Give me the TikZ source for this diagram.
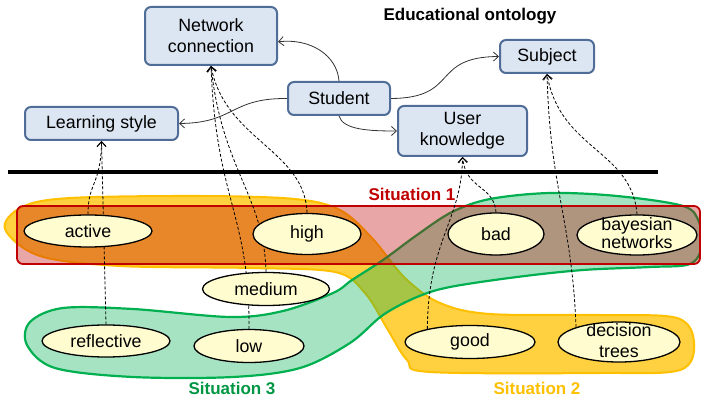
\documentclass[tikz,border=0pt]{standalone}
\usepackage{fontspec}
\setmainfont{Liberation Sans}
\usetikzlibrary{shapes.geometric,arrows.meta}
\pgfdeclarelayer{blobs}
\pgfdeclarelayer{links}
\pgfsetlayers{blobs,links,main}
\definecolor{boxfill}{HTML}{DCE6F2}
\definecolor{boxline}{HTML}{4F6D96}
\definecolor{ellfill}{HTML}{FFFDD0}
\definecolor{sitred}{HTML}{C00000}
\definecolor{sityel}{HTML}{FFC000}
\definecolor{sitgrn}{HTML}{00B050}
\begin{document}
\begin{tikzpicture}[x=1pt,y=-1pt,
  txt/.style={font=\fontsize{17.8}{21}\selectfont},
  onto/.style={draw=boxline, line width=2pt, fill=boxfill, rounded corners=6pt, inner sep=0pt, align=center, txt},
  val/.style={ellipse, draw=black, line width=1.3pt, fill=ellfill, inner sep=0pt, txt},
  dep/.style={line width=0.8pt, dash pattern=on 3pt off 2pt, -{Straight Barb[length=5pt,width=9pt]}},
  rel/.style={line width=0.8pt, draw=black!80, -{Straight Barb[length=5pt,width=9pt]}},
  sit/.style={font=\bfseries\fontsize{17}{20}\selectfont}]
\useasboundingbox (0,0) rectangle (701,398);

% ontology boxes
\node[onto, minimum width=132pt, minimum height=58pt] (net) at (211,36) {Network\\connection};
\node[onto, minimum width=153pt, minimum height=33pt] (ls) at (101.5,123.5) {Learning style};
\node[onto, minimum width=102pt, minimum height=33pt] (stu) at (339,98.5) {Student};
\node[onto, minimum width=129pt, minimum height=50pt] (uk) at (462.5,131) {User\\knowledge};
\node[onto, minimum width=94pt, minimum height=33pt] (subj) at (547,56.5) {Subject};
\node[font=\bfseries\fontsize{17}{20}\selectfont] (title) at (470,16) {Educational ontology};

% values
\node[val, minimum width=128pt, minimum height=32pt] (act) at (88,231) {active};
\node[val, minimum width=108pt, minimum height=41pt] (high) at (307,234) {high};
\node[val, minimum width=127pt, minimum height=33pt] (med) at (266,289) {medium};
\node[val, minimum width=128pt, minimum height=32pt] (refl) at (106,341) {reflective};
\node[val, minimum width=110pt, minimum height=33pt] (low) at (249,346) {low};
\node[val, minimum width=96pt, minimum height=42pt] (bad) at (496,234) {bad};
\node[val, minimum width=120pt, minimum height=40pt] (bn) at (637,235)
  {\smash{\raisebox{-5.3pt}{\fontsize{17.8}{18.5}\selectfont\begin{tabular}{@{}c@{}}bayesian\\networks\end{tabular}}}};
\node[val, minimum width=130pt, minimum height=33pt] (good) at (470,342) {good};
\node[val, minimum width=122pt, minimum height=40pt] (dt) at (619,342)
  {\smash{\raisebox{-5.5pt}{\fontsize{17.8}{21}\selectfont\begin{tabular}{@{}c@{}}decision\\trees\end{tabular}}}};

% situation labels
\node[sit, text=sitred] (s1) at (412,194) {Situation 1};
\node[sit, text=sityel] (s2) at (537,388) {Situation 2};
\node[sit, text=sitgrn!85!black] (s3) at (232,388) {Situation 3};

\begin{pgfonlayer}{blobs}
  % situation 2 (yellow)
  \draw[draw=sityel, line width=2pt, fill=sityel, fill opacity=0.75]
    plot[smooth cycle, tension=0.55] coordinates {
      (5,229) (22,207) (70,198) (200,196) (295,199) (340,210) (372,238)
      (405,278) (440,303) (490,314) (600,315) (677,318) (694,343) (680,370)
      (600,373) (430,372) (407,360) (388,330) (365,293) (335,272) (250,268)
      (120,266) (40,256)};
  % situation 3 (green)
  \draw[draw=sitgrn, line width=2.2pt, fill=sitgrn, fill opacity=0.35]
    plot[smooth cycle, tension=0.55] coordinates {
      (63,308) (133,309) (230,317) (283,311) (333,293) (352,280) (383,260)
      (417,235) (452,212) (490,199) (550,193) (617,196) (683,206) (699,222)
      (702,246) (690,264) (650,267) (583,270) (517,277) (450,287) (417,297)
      (383,315) (350,343) (300,368) (233,377) (133,377) (55,368) (27,345)
      (30,322)};
  % situation 1 (red)
  \draw[draw=sitred, line width=1.8pt, fill=sitred, fill opacity=0.35, rounded corners=6pt]
    (17,206) rectangle (700,264);
  % separator
  \draw[line width=4.8pt] (8,172) -- (658,172);
\end{pgfonlayer}

\begin{pgfonlayer}{links}
  % ontology relations
  \draw[rel] (stu.north) .. controls (337,55) and (310,38) .. (net.-5);
  \draw[rel] (stu.west) .. controls (230,98) and (235,123) .. (ls.east);
  \draw[rel] (stu.south) .. controls (343,130) and (370,131) .. (uk.west);
  \draw[rel] (stu.east) .. controls (460,98) and (430,57) .. (subj.west);
  % value links
  \draw[dep] (act.north) .. controls (88,182) and (101,185) .. (ls.south);
  \draw[dep] (refl.north) -- (ls.south);
  \draw[dep] (low.north) .. controls (250,215) and (216,200) .. (net.south);
  \draw[dep] (med.north) .. controls (264,195) and (222,170) .. (net.south);
  \draw[dep] (high.north) .. controls (305,150) and (225,140) .. (net.south);
  \draw[dep] (bad.north) .. controls (494,185) and (466,190) .. (uk.south);
  \draw[dep] (good.163) .. controls (428,240) and (462,220) .. (uk.south);
  \draw[dep] (dt.161) .. controls (572,220) and (550,190) .. (subj.south);
  \draw[dep] (bn.north) .. controls (632,150) and (560,150) .. (subj.south);
\end{pgfonlayer}
\end{tikzpicture}
\end{document}
